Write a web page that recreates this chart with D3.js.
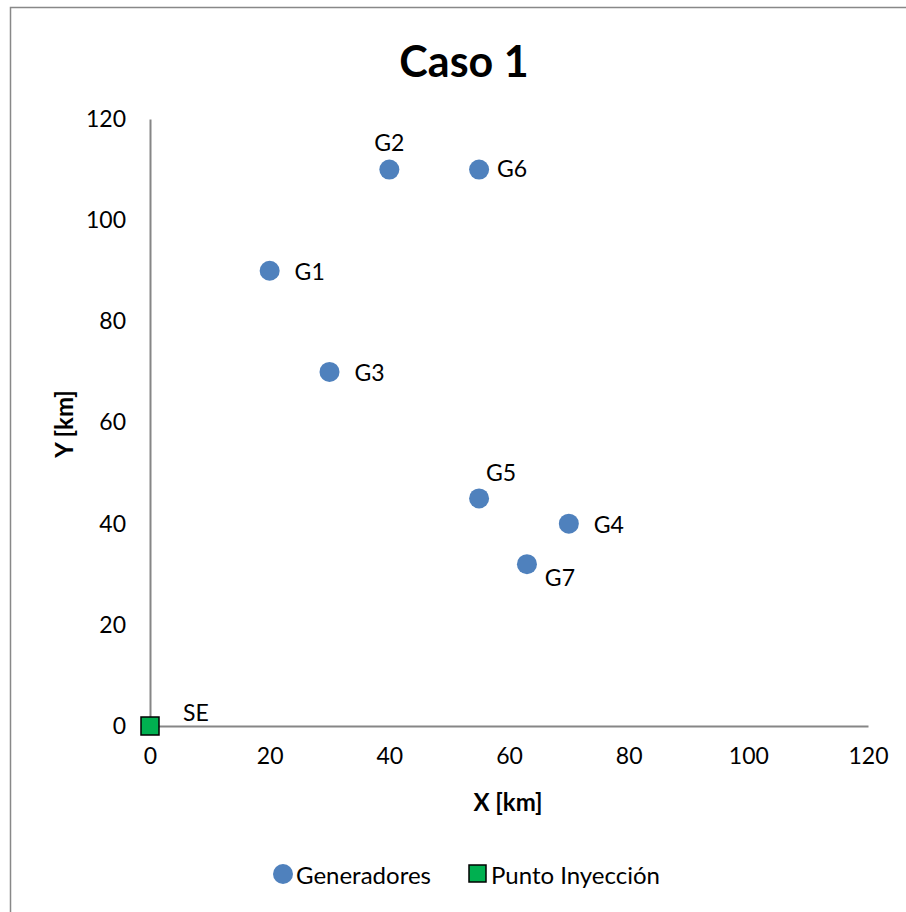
<!DOCTYPE html>
<html>
<head>
<meta charset="utf-8">
<title>Caso 1</title>
<script src="https://d3js.org/d3.v7.min.js"></script>
<style>
body { margin: 0; background: #fff; }
text { font-family: Lato, "Open Sans", sans-serif; fill: #000; }
.axis path { stroke: #868686; stroke-width: 2; }
</style>
</head>
<body>
<svg width="906" height="912"></svg>
<script>
// generadores
var genNames = ["G1", "G2", "G3", "G4", "G5", "G6", "G7"];
var genX = [20, 40, 30, 70, 55, 55, 63];
var genY = [90, 110, 70, 40, 45, 110, 32];
// punto de inyeccion
var seNames = ["SE"];
var seX = [0];
var seY = [0];
var xTicks = [0, 20, 40, 60, 80, 100, 120];
var yTicks = [0, 20, 40, 60, 80, 100, 120];

// where excel put each label, relative to the marker
var labelOffset = {
  G1: [40, 0], G2: [0, -28], G3: [40, 0], G4: [40, 0],
  G5: [22, -26], G6: [33, -2], G7: [33, 13], SE: [46, -14]
};

var svg = d3.select("svg");

svg.append("rect")
  .attr("x", 10.5).attr("y", 7.5)
  .attr("width", 1000).attr("height", 1000)
  .attr("fill", "none").attr("stroke", "#888").attr("stroke-width", 1.5);

var x = d3.scaleLinear().domain([0, 120]).range([150, 868]);
var y = d3.scaleLinear().domain([0, 120]).range([726, 119]);

svg.append("g")
  .attr("class", "axis")
  .attr("transform", "translate(0," + y(0) + ")")
  .call(d3.axisBottom(x).tickValues(xTicks).tickSize(0).tickSizeOuter(0).tickPadding(22))
  .call(function(g) { g.selectAll("text").style("font-size", "23px").style("font-family", "Lato, sans-serif"); });

svg.append("g")
  .attr("class", "axis")
  .attr("transform", "translate(" + x(0) + ",0)")
  .call(d3.axisLeft(y).tickValues(yTicks).tickSize(0).tickSizeOuter(0).tickPadding(24))
  .call(function(g) { g.selectAll("text").style("font-size", "23px").style("font-family", "Lato, sans-serif"); });

// title
svg.append("text")
  .attr("x", 464).attr("y", 60)
  .attr("text-anchor", "middle")
  .attr("dominant-baseline", "central")
  .style("font-size", "43px").style("font-weight", "bold")
  .text("Caso 1");

svg.append("text")
  .attr("x", 508).attr("y", 801)
  .attr("text-anchor", "middle")
  .attr("dominant-baseline", "central")
  .style("font-size", "24px").style("font-weight", "bold")
  .text("X [km]");

svg.append("text")
  .attr("transform", "translate(63,424) rotate(-90)")
  .attr("text-anchor", "middle")
  .attr("dominant-baseline", "central")
  .style("font-size", "24px").style("font-weight", "bold")
  .text("Y [km]");

var gens = genNames.map(function(n, i) { return {name: n, x: genX[i], y: genY[i]}; });
var ses = seNames.map(function(n, i) { return {name: n, x: seX[i], y: seY[i]}; });

svg.selectAll(".gen")
  .data(gens)
  .enter().append("circle")
  .attr("class", "gen")
  .attr("cx", function(d) { return x(d.x); })
  .attr("cy", function(d) { return y(d.y); })
  .attr("r", 10)
  .attr("fill", "#4f81bd");

svg.selectAll(".se")
  .data(ses)
  .enter().append("rect")
  .attr("class", "se")
  .attr("x", function(d) { return x(d.x) - 9; })
  .attr("y", function(d) { return y(d.y) - 9; })
  .attr("width", 18).attr("height", 18)
  .attr("fill", "#00b050").attr("stroke", "#000").attr("stroke-width", 1.5);

svg.selectAll(".lbl")
  .data(gens.concat(ses))
  .enter().append("text")
  .attr("class", "lbl")
  .attr("x", function(d) { return x(d.x) + labelOffset[d.name][0]; })
  .attr("y", function(d) { return y(d.y) + labelOffset[d.name][1]; })
  .attr("text-anchor", "middle")
  .attr("dominant-baseline", "central")
  .style("font-size", "23px")
  .text(function(d) { return d.name; });

// legend
var leg = svg.append("g");
leg.append("circle").attr("cx", 283).attr("cy", 874).attr("r", 10).attr("fill", "#4f81bd");
leg.append("text").attr("x", 296).attr("y", 874).attr("dominant-baseline", "central")
  .style("font-size", "24px").text("Generadores");
leg.append("rect").attr("x", 469).attr("y", 865).attr("width", 17).attr("height", 17)
  .attr("fill", "#00b050").attr("stroke", "#000").attr("stroke-width", 1.5);
leg.append("text").attr("x", 491).attr("y", 874).attr("dominant-baseline", "central")
  .style("font-size", "24px").text("Punto Inyección");
</script>
</body>
</html>
